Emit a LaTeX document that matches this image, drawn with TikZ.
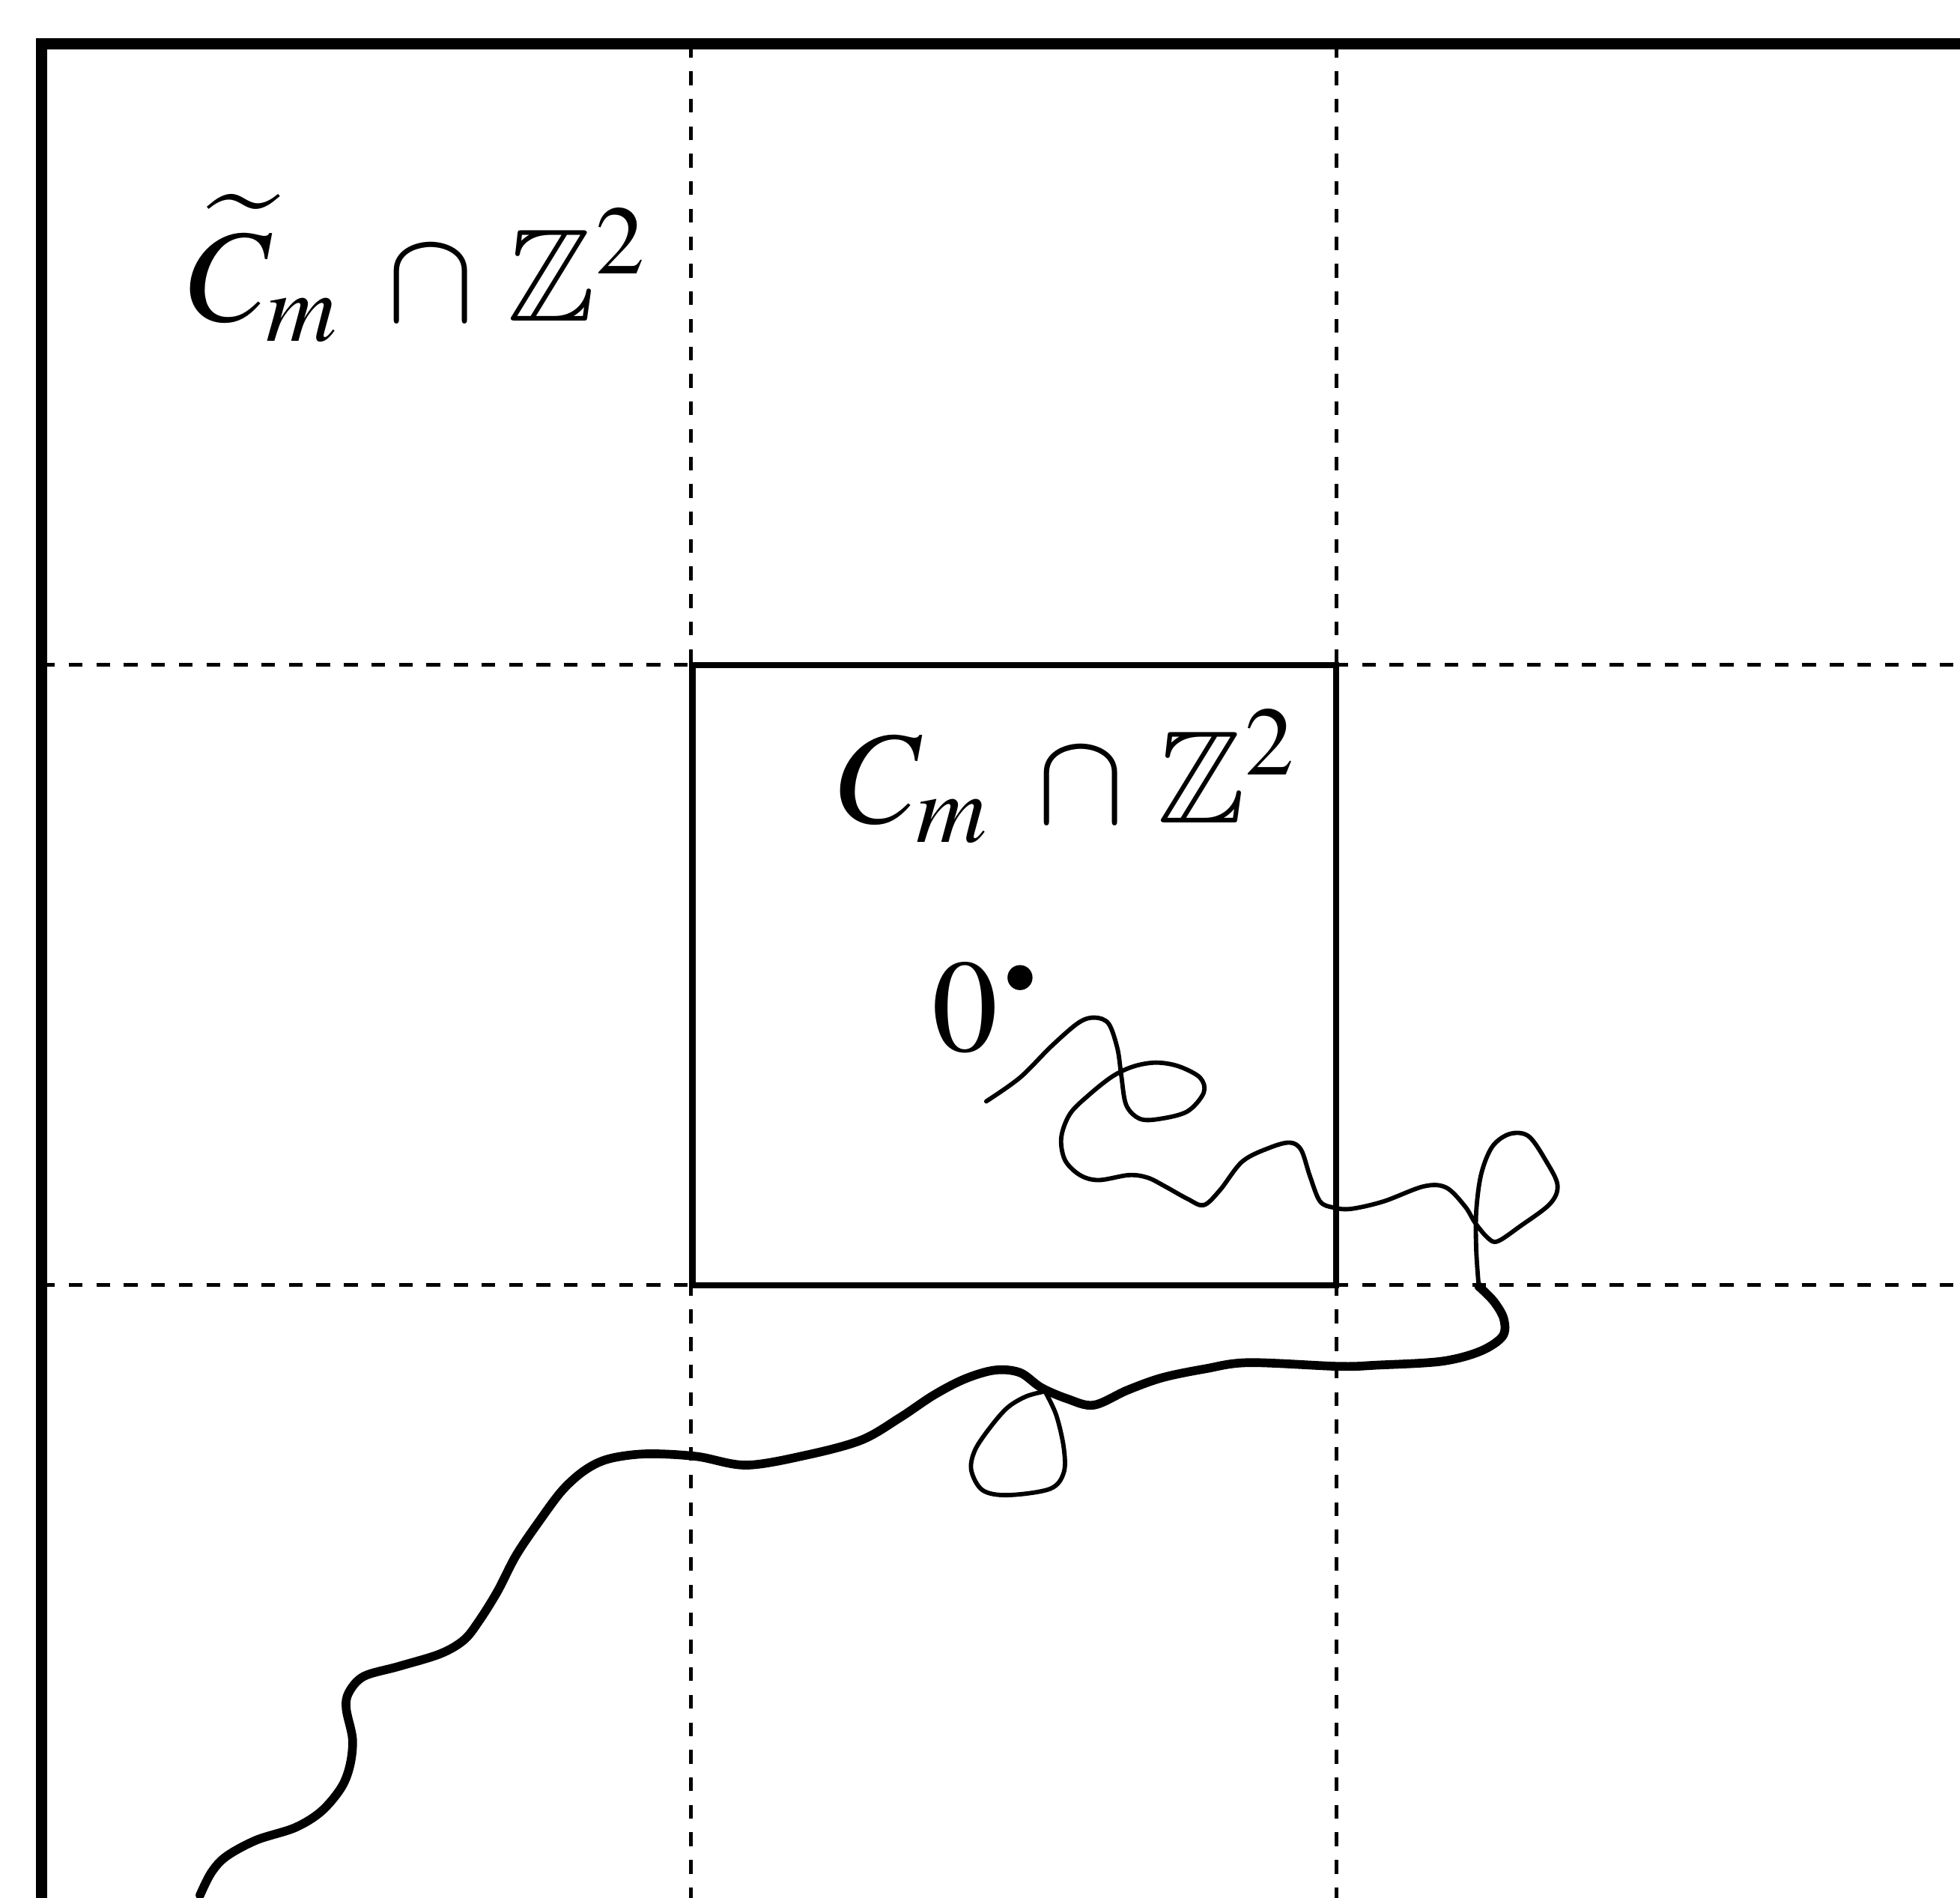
\documentclass[tikz,border=0pt]{standalone}
\usepackage{amssymb}
\usepackage{mathptmx}
\usetikzlibrary{calc}
\begin{document}
\begin{tikzpicture}[x=0.01cm,y=-0.01cm,
  framestyle/.style={line width=0.09cm,line cap=square,line join=miter},
  gridline/.style={line width=0.03cm,dash pattern=on 0.11cm off 0.11cm},
  squarestyle/.style={line width=0.05cm,line join=miter},
  walkthin/.style={line width=0.035cm,line join=round,line cap=round},
  walkthick/.style={line width=0.07cm,line join=round,line cap=round},
  lbl/.style={inner sep=0pt,anchor=base west,font=\fontsize{30}{36}\selectfont}]
\useasboundingbox (0,0) rectangle (1568,1518);
\clip (0,0) rectangle (1568,1518);
% grid (dashed)
\coordinate (v1t) at (553,35); \coordinate (v1b) at (553,1530);
\coordinate (v2t) at (1069,35); \coordinate (v2b) at (1069,1530);
\coordinate (h1l) at (33,532); \coordinate (h1r) at (1580,532);
\coordinate (h2l) at (33,1028); \coordinate (h2r) at (1580,1028);
\draw[gridline] (v1t) -- (v1b);
\draw[gridline] (v2t) -- (v2b);
\draw[gridline] (h1l) -- (h1r);
\draw[gridline] (h2l) -- (h2r);
% inner square
\coordinate (sqa) at (554,532); \coordinate (sqb) at (1069,1028);
\draw[squarestyle] (sqa) rectangle (sqb);
% outer frame
\coordinate (fb) at (33,1540); \coordinate (fc) at (33,35); \coordinate (fr) at (1590,35);
\draw[framestyle] (fb) -- (fc) -- (fr);
% labels
\node[lbl] (lbltilde) at (150,257) {$\widetilde{C}_{m}\;\cap\,\mathbb{Z}^{2}$};
\node[lbl] (lblC) at (670,658) {$C_{m}\;\cap\,\mathbb{Z}^{2}$};
\node[lbl] (lblzero) at (745,841) {$0$};
\node[circle,fill,inner sep=0pt,minimum size=0.2cm] (origin) at (816,782) {};
% walk, thin part
\draw[walkthin] plot[smooth,tension=0.55] coordinates {
(789,881) (816,862) (841,837) (863,818) (876,814) (887,819) (894,839) (897,860)
(901,884) (912,895) (928,895) (950,889) (963,874) (960,862) (943,853) (925,850)
(907,853) (890,861) (871,876) (856,891) (849,910) (852,928) (864,940) (879,944)
(903,940) (918,942) (932,949) (950,959) (963,964) (976,952) (994,929) (1016,918)
(1032,914) (1041,920) (1048,941) (1056,961) (1067,966) (1081,967) (1107,961)
(1139,949) (1157,950) (1172,965) (1180,978) (1190,990) (1198,993) (1216,981)
(1240,963) (1246,948) (1237,929) (1223,909) (1208,907) (1194,917) (1185,939)
(1181,969) (1181,1000) (1183,1029)};
% walk, thick part
\draw[walkthick] plot[smooth,tension=0.55] coordinates {
(1183,1029) (1195,1041) (1203,1055) (1202,1069) (1184,1081) (1153,1089) (1102,1092)
(1071,1093) (999,1090) (964,1095) (930,1102) (902,1112) (875,1124) (854,1119)
(833,1110) (816,1098) (796,1096) (772,1103) (747,1116) (720,1134) (689,1152)
(645,1164) (597,1172) (557,1165) (517,1163) (487,1167) (468,1176) (450,1192)
(432,1216) (413,1244) (398,1273) (383,1297) (371,1312) (352,1323) (319,1333)
(291,1341) (279,1354) (277,1367) (282,1391) (280,1412) (273,1430) (257,1449)
(236,1462) (205,1472) (181,1485) (169,1498) (160,1516)};
% small loop below
\draw[walkthin] plot[smooth,tension=0.55] coordinates {
(836,1113) (845,1132) (851,1158) (851,1178) (840,1191) (806,1196) (786,1192)
(777,1176) (780,1160) (792,1142) (806,1126) (821,1117) (836,1113)};
\end{tikzpicture}
\end{document}
